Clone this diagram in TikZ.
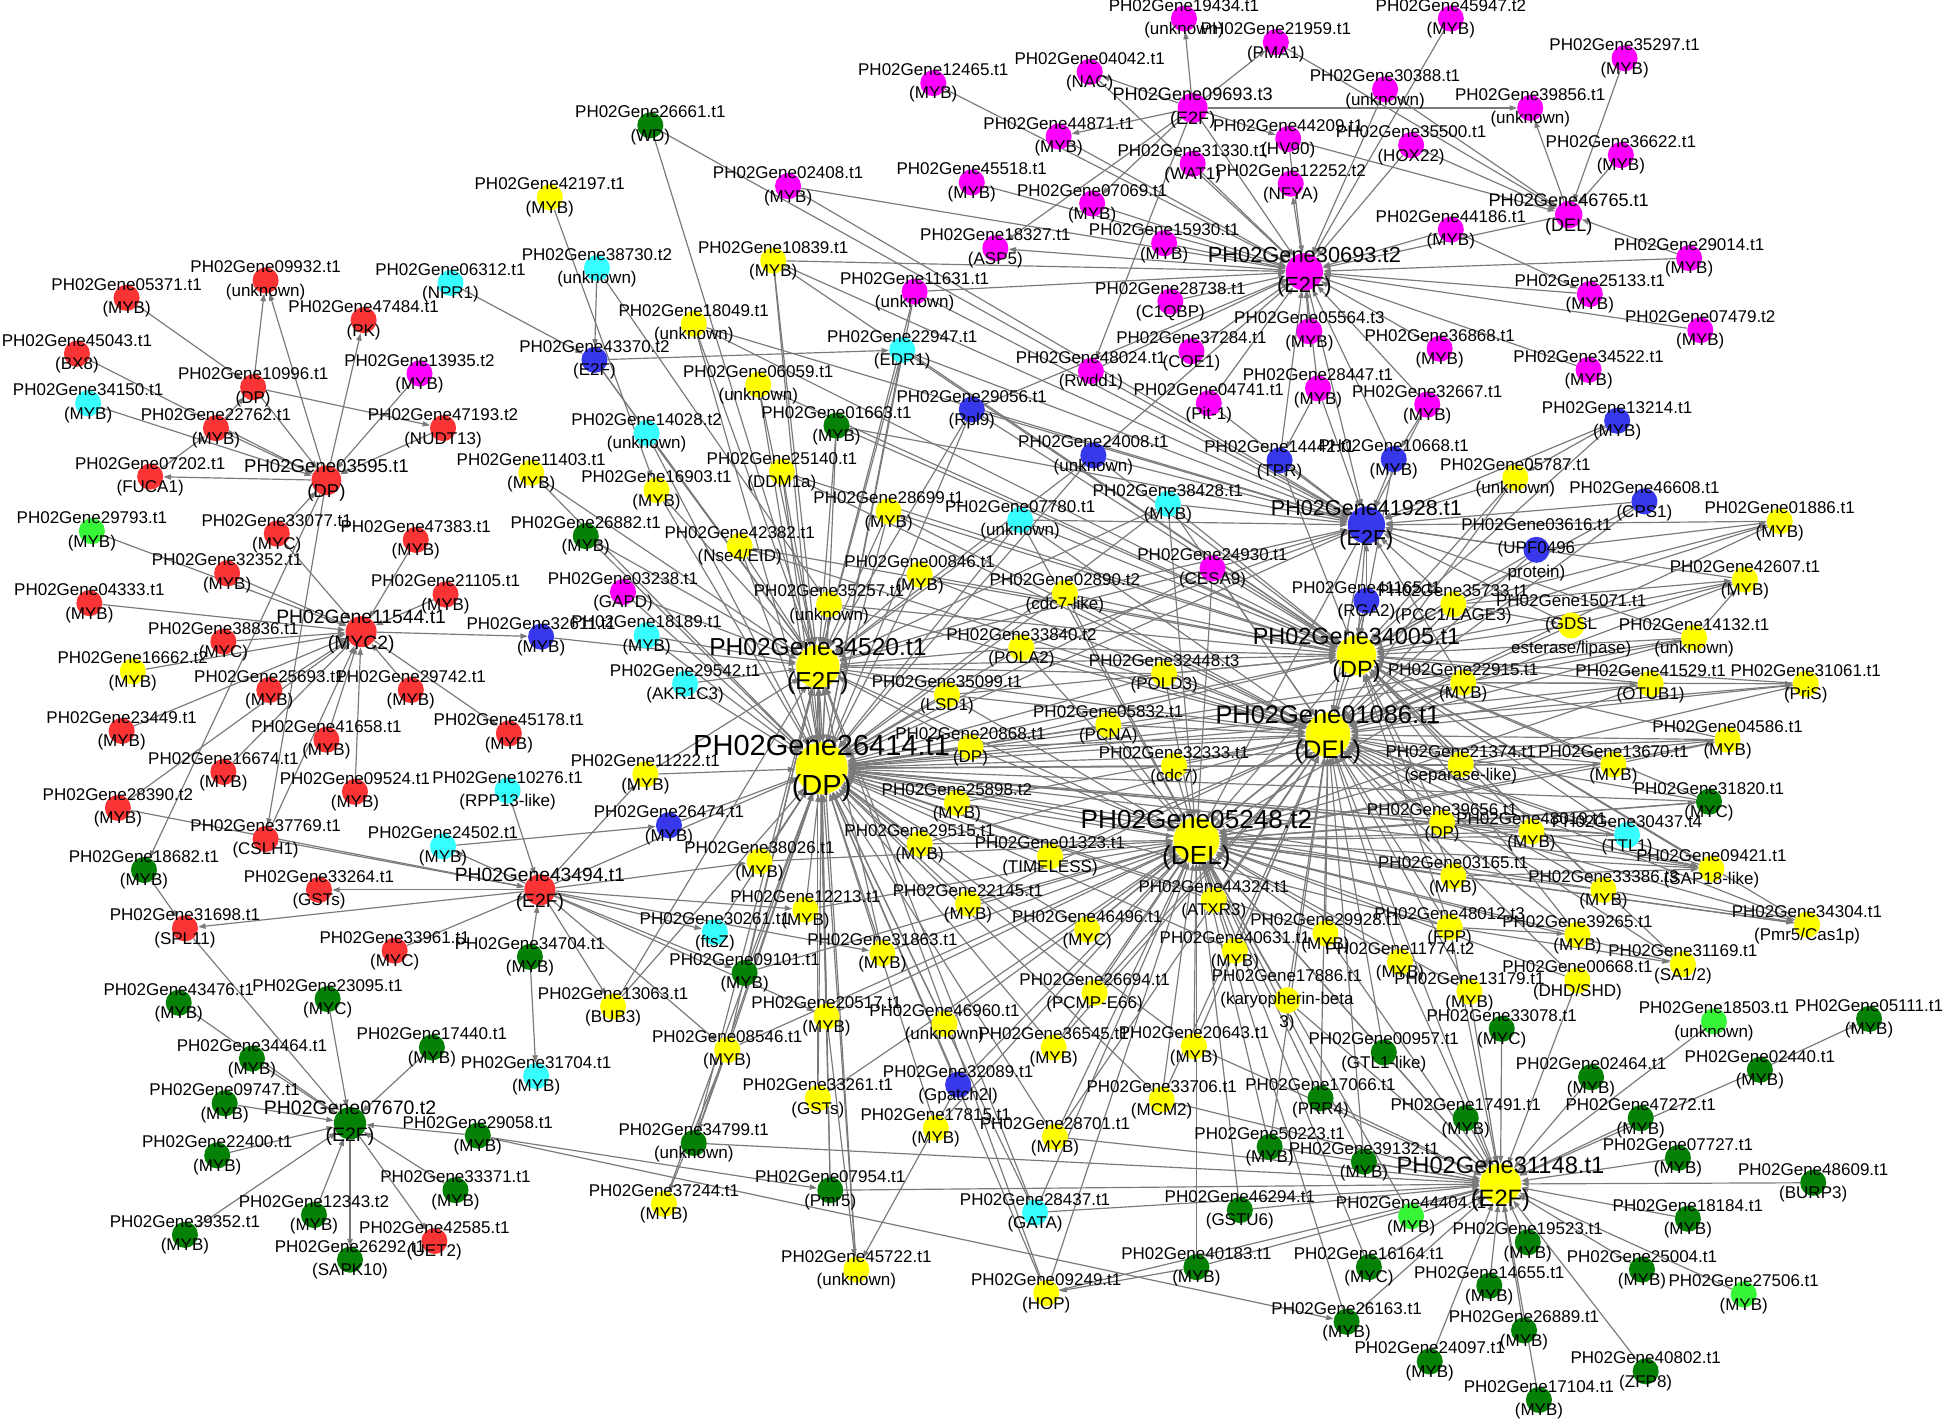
\documentclass[tikz,border=0pt]{standalone}
\usepackage{fontspec}
\setmainfont{Liberation Sans}
\usetikzlibrary{arrows.meta}
\definecolor{rd}{RGB}{250,52,52}
\definecolor{mg}{RGB}{255,0,255}
\definecolor{yl}{RGB}{255,255,0}
\definecolor{cy}{RGB}{55,255,255}
\definecolor{bl}{RGB}{55,55,235}
\definecolor{dg}{RGB}{5,130,5}
\definecolor{lg}{RGB}{55,245,55}
\definecolor{eg}{RGB}{122,122,122}
\pgfdeclarelayer{background}
\pgfdeclarelayer{fg}
\pgfsetlayers{background,main,fg}
\tikzset{
 gc/.style={circle,inner sep=0pt,minimum size=21pt,draw=none},
 gl/.style={align=center,inner sep=0pt,text=black,font=\fontsize{13.7}{18.8}\selectfont},
 ed/.style={draw=eg,line width=0.95pt,-{Triangle[length=6pt,width=4.2pt]}}
}
\newcommand{\sn}[6]{%
 \node[gc,fill=#5] (g#1) at (#3,#4) {};
 \begin{pgfonlayer}{fg}\node[gl] at (#3,#4) {PH02Gene#1.#2\\(#6)};\end{pgfonlayer}}
\newcommand{\hn}[9]{%
 \node[gc,fill=#5,minimum size=#6pt] (g#1) at (#3,#4) {};
 \begin{pgfonlayer}{fg}\node[gl,font=\fontsize{#7}{#8}\selectfont] at (#3,#4) {PH02Gene#1.#2\\(#9)};\end{pgfonlayer}}
\begin{document}
\begin{tikzpicture}[x=1pt,y=-1pt]
\useasboundingbox (0,0) rectangle (1568,1146);
\begin{pgfonlayer}{background}\fill[white] (0,0) rectangle (1568,1146);\end{pgfonlayer}
% ---- left red cluster
\sn{05371}{t1}{102}{240}{rd}{MYB}
\sn{09932}{t1}{214}{226}{rd}{unknown}
\sn{06312}{t1}{363}{228}{cy}{NPR1}
\sn{47484}{t1}{293}{258}{rd}{PK}
\sn{45043}{t1}{62}{285}{rd}{BX8}
\sn{10996}{t1}{204}{312}{rd}{DP}
\sn{13935}{t2}{338}{301}{mg}{MYB}
\sn{34150}{t1}{71}{325}{cy}{MYB}
\sn{22762}{t1}{174}{345}{rd}{MYB}
\sn{47193}{t2}{357}{345}{rd}{NUDT13}
\sn{07202}{t1}{121}{384}{rd}{FUCA1}
\hn{03595}{t1}{263}{387}{rd}{24}{15}{20.5}{DP}
\sn{29793}{t1}{74}{428}{lg}{MYB}
\sn{33077}{t1}{223}{430}{rd}{MYC}
\sn{47383}{t1}{335}{435}{rd}{MYB}
\sn{32352}{t1}{183}{462}{rd}{MYB}
\sn{04333}{t1}{72}{486}{rd}{MYB}
\sn{21105}{t1}{359}{479}{rd}{MYB}
\hn{11544}{t1}{291}{509}{rd}{25}{15.6}{21.4}{MYC2}
\sn{38836}{t1}{180}{517}{rd}{MYC}
\sn{16662}{t2}{107}{541}{yl}{MYB}
\sn{25693}{t1}{217}{556}{rd}{MYB}
\sn{29742}{t1}{331}{556}{rd}{MYB}
\sn{23449}{t1}{98}{589}{rd}{MYB}
\sn{41658}{t1}{263}{596}{rd}{MYB}
\sn{45178}{t1}{410}{591}{rd}{MYB}
\sn{16674}{t1}{180}{622}{rd}{MYB}
\sn{09524}{t1}{286}{638}{rd}{MYB}
\sn{10276}{t1}{409}{637}{cy}{RPP13-like}
\sn{28390}{t2}{95}{651}{rd}{MYB}
\sn{37769}{t1}{214}{676}{rd}{CSLH1}
\sn{24502}{t1}{357}{682}{cy}{MYB}
\sn{18682}{t1}{116}{701}{dg}{MYB}
\sn{33264}{t1}{257}{717}{rd}{GSTs}
\hn{43494}{t1}{435}{717}{rd}{25}{15.5}{21.2}{E2F}
\sn{31698}{t1}{149}{748}{rd}{SPL11}
\sn{33961}{t1}{318}{766}{rd}{MYC}
\sn{34704}{t1}{427}{771}{dg}{MYB}
% ---- bottom-left green cluster
\sn{43476}{t1}{144}{808}{dg}{MYB}
\sn{23095}{t1}{264}{805}{dg}{MYC}
\sn{17440}{t1}{348}{844}{dg}{MYB}
\sn{34464}{t1}{203}{853}{dg}{MYB}
\sn{31704}{t1}{432}{867}{cy}{MYB}
\sn{09747}{t1}{181}{889}{dg}{MYB}
\hn{07670}{t2}{282}{905}{dg}{26}{15.7}{21.5}{E2F}
\sn{29058}{t1}{385}{915}{dg}{MYB}
\sn{22400}{t1}{175}{931}{dg}{MYB}
\sn{33371}{t1}{367}{959}{dg}{MYB}
\sn{12343}{t2}{253}{979}{dg}{MYB}
\sn{39352}{t1}{149}{995}{dg}{MYB}
\sn{42585}{t1}{350}{1000}{rd}{UET2}
\sn{26292}{t1}{282}{1015}{dg}{SAPK10}
% ---- upper middle
\sn{26661}{t1}{524}{101}{dg}{WD}
\sn{12465}{t1}{752}{67}{mg}{MYB}
\sn{42197}{t1}{443}{159}{yl}{MYB}
\sn{02408}{t1}{635}{150}{mg}{MYB}
\sn{38730}{t2}{481}{216}{cy}{unknown}
\sn{10839}{t1}{623}{210}{yl}{MYB}
\sn{11631}{t1}{737}{235}{mg}{unknown}
\sn{18049}{t1}{559}{261}{yl}{unknown}
\sn{43370}{t2}{479}{290}{bl}{E2F}
\sn{22947}{t1}{727}{282}{cy}{EDR1}
\sn{06059}{t1}{611}{310}{yl}{unknown}
\sn{29056}{t1}{783}{330}{bl}{Rpl9}
\sn{14028}{t2}{521}{349}{cy}{unknown}
\sn{01663}{t1}{674}{343}{dg}{MYB}
\sn{11403}{t1}{428}{381}{yl}{MYB}
\sn{25140}{t1}{630}{380}{yl}{DDM1a}
\sn{16903}{t1}{529}{395}{yl}{MYB}
\sn{28699}{t1}{716}{412}{yl}{MYB}
\sn{26882}{t1}{472}{432}{dg}{MYB}
\sn{42382}{t1}{596}{440}{yl}{Nse4/EID}
\sn{00846}{t1}{741}{463}{yl}{MYB}
\sn{03238}{t1}{502}{477}{mg}{GAPD}
\sn{35257}{t1}{668}{487}{yl}{unknown}
\sn{32611}{t1}{436}{513}{bl}{MYB}
\sn{18189}{t1}{521}{512}{cy}{MYB}
\hn{34520}{t1}{659}{537}{yl}{35}{19.8}{27.5}{E2F}
\sn{29542}{t1}{552}{551}{cy}{AKR1C3}
\sn{11222}{t1}{520}{624}{yl}{MYB}
\hn{26414}{t1}{662}{619}{yl}{42}{23.4}{32}{DP}
\sn{26474}{t1}{539}{665}{bl}{MYB}
\sn{38026}{t1}{612}{694}{yl}{MYB}
\sn{30261}{t1}{576}{751}{cy}{ftsZ}
\sn{12213}{t1}{649}{733}{yl}{MYB}
\sn{31863}{t1}{711}{768}{yl}{MYB}
\sn{09101}{t1}{600}{784}{dg}{MYB}
\sn{13063}{t1}{494}{811}{yl}{BUB3}
\sn{20517}{t1}{666}{819}{yl}{MYB}
\sn{46960}{t1}{761}{825}{yl}{unknown}
\sn{08546}{t1}{586}{846}{yl}{MYB}
\sn{32089}{t1}{772}{874}{bl}{Gpatch2l}
\sn{33261}{t1}{659}{885}{yl}{GSTs}
\sn{17815}{t1}{754}{909}{yl}{MYB}
\sn{34799}{t1}{559}{921}{dg}{unknown}
\sn{07954}{t1}{669}{959}{dg}{Pmr5}
\sn{37244}{t1}{535}{970}{yl}{MYB}
\sn{45722}{t1}{690}{1023}{yl}{unknown}
% ---- lower middle
\sn{36545}{t1}{849}{844}{yl}{MYB}
\sn{26694}{t1}{882}{800}{yl}{PCMP-E66}
\sn{20643}{t1}{962}{843}{yl}{MYB}
\sn{33706}{t1}{936}{886}{yl}{MCM2}
\sn{28701}{t1}{850}{916}{yl}{MYB}
\sn{28437}{t1}{834}{977}{cy}{GATA}
\sn{09249}{t1}{843}{1042}{yl}{HOP}
\sn{46294}{t1}{999}{975}{dg}{GSTU6}
\sn{40183}{t1}{964}{1021}{dg}{MYB}
\sn{17886}{t1}{1037}{806}{yl}{karyopherin-beta\\3}
\sn{00957}{t1}{1115}{848}{dg}{GTL1-like}
\sn{17066}{t1}{1064}{885}{dg}{PRR4}
\sn{50223}{t1}{1023}{924}{dg}{MYB}
\sn{39132}{t1}{1099}{936}{dg}{MYB}
\sn{44404}{t1}{1137}{980}{lg}{MYB}
\sn{16164}{t1}{1103}{1021}{dg}{MYC}
\sn{26163}{t1}{1085}{1065}{dg}{MYB}
\sn{24097}{t1}{1152}{1097}{dg}{MYB}
% ---- bottom right cluster
\hn{31148}{t1}{1209}{954}{yl}{33}{19.1}{26.5}{E2F}
\sn{19523}{t1}{1231}{1001}{dg}{MYB}
\sn{14655}{t1}{1200}{1036}{dg}{MYB}
\sn{26889}{t1}{1228}{1072}{dg}{MYB}
\sn{17104}{t1}{1240}{1128}{dg}{MYB}
\sn{40802}{t1}{1326}{1105}{dg}{ZFP8}
\sn{25004}{t1}{1323}{1023}{dg}{MYB}
\sn{27506}{t1}{1405}{1043}{lg}{MYB}
\sn{18184}{t1}{1360}{982}{dg}{MYB}
\sn{48609}{t1}{1461}{953}{dg}{BURP3}
\sn{07727}{t1}{1352}{933}{dg}{MYB}
\sn{47272}{t1}{1322}{901}{dg}{MYB}
\sn{02464}{t1}{1282}{868}{dg}{MYB}
\sn{02440}{t1}{1418}{862}{dg}{MYB}
\sn{18503}{t1}{1381}{823}{lg}{unknown}
\sn{05111}{t1}{1506}{821}{dg}{MYB}
\sn{33078}{t1}{1210}{829}{dg}{MYC}
\sn{17491}{t1}{1181}{901}{dg}{MYB}
\sn{13179}{t1}{1184}{799}{yl}{MYB}
\sn{00668}{t1}{1271}{790}{yl}{DHD/SHD}
\sn{31169}{t1}{1356}{777}{yl}{SA1/2}
\sn{34304}{t1}{1456}{745}{yl}{Pmr5/Cas1p}
\sn{39265}{t1}{1271}{753}{yl}{MYB}
\sn{33386}{t3}{1292}{717}{yl}{MYB}
\sn{09421}{t1}{1379}{700}{yl}{SAP18-like}
\sn{30437}{t4}{1311}{673}{cy}{TTL1}
\sn{48019}{t1}{1234}{670}{yl}{MYB}
\sn{31820}{t1}{1377}{646}{dg}{MYC}
\sn{13670}{t1}{1300}{616}{yl}{MYB}
\sn{04586}{t1}{1392}{596}{yl}{MYB}
\sn{21374}{t1}{1177}{616}{yl}{separase-like}
\sn{41529}{t1}{1330}{551}{yl}{OTUB1}
\sn{31061}{t1}{1455}{551}{yl}{PriS}
\sn{22915}{t1}{1179}{550}{yl}{MYB}
\sn{14132}{t1}{1365}{514}{yl}{unknown}
\sn{15071}{t1}{1266}{504}{yl}{GDSL\\esterase/lipase}
\sn{42607}{t1}{1406}{467}{yl}{MYB}
\sn{01886}{t1}{1434}{420}{yl}{MYB}
\sn{03616}{t1}{1238}{443}{bl}{UPF0496\\protein}
\sn{46608}{t1}{1325}{404}{bl}{CPS1}
\sn{05787}{t1}{1221}{385}{yl}{unknown}
\sn{35733}{t1}{1171}{487}{yl}{PCC1/LAGE3}
\sn{39656}{t1}{1162}{663}{yl}{DP}
\sn{03165}{t1}{1171}{706}{yl}{MYB}
\sn{48012}{t3}{1168}{747}{yl}{FPP}
\sn{11774}{t2}{1128}{775}{yl}{MYB}
\sn{29928}{t1}{1068}{752}{yl}{MYB}
\sn{40631}{t1}{995}{766}{yl}{MYB}
\sn{44324}{t1}{978}{725}{yl}{ATXR3}
\sn{46496}{t1}{876}{749}{yl}{MYC}
% ---- centre
\hn{05248}{t2}{964}{677}{yl}{37}{21.1}{29}{DEL}
\sn{01323}{t1}{846}{690}{yl}{TIMELESS}
\sn{22145}{t1}{780}{728}{yl}{MYB}
\sn{29515}{t1}{741}{680}{yl}{MYB}
\sn{25898}{t2}{771}{647}{yl}{MYB}
\sn{20868}{t1}{782}{602}{yl}{DP}
\sn{35099}{t1}{763}{560}{yl}{LSD1}
\sn{33840}{t2}{823}{522}{yl}{POLA2}
\sn{32448}{t3}{938}{543}{yl}{POLD3}
\sn{05832}{t1}{893}{584}{yl}{PCNA}
\sn{32333}{t1}{946}{617}{yl}{cdc7}
\hn{01086}{t1}{1070}{592}{yl}{36}{20.5}{28}{DEL}
\hn{34005}{t1}{1093}{528}{yl}{32}{18.9}{26}{DP}
\sn{02890}{t2}{858}{478}{yl}{cdc7-like}
\sn{24930}{t1}{977}{458}{mg}{CESA9}
\sn{41165}{t1}{1101}{484}{bl}{RGA2}
\hn{41928}{t1}{1101}{423}{bl}{30}{17.4}{24}{E2F}
\sn{38428}{t1}{941}{406}{cy}{MYB}
\sn{07780}{t1}{822}{419}{cy}{unknown}
\sn{24008}{t1}{881}{367}{bl}{unknown}
\sn{14442}{t1}{1031}{371}{bl}{TPR}
\sn{10668}{t1}{1123}{370}{bl}{MYB}
\sn{13214}{t1}{1303}{339}{bl}{MYB}
% ---- top magenta cluster
\sn{32667}{t1}{1150}{326}{mg}{MYB}
\sn{28447}{t1}{1062}{313}{mg}{MYB}
\sn{04741}{t1}{974}{325}{mg}{Pit-1}
\sn{48024}{t1}{879}{299}{mg}{Rwdd1}
\sn{37284}{t1}{960}{283}{mg}{COE1}
\sn{05564}{t3}{1055}{267}{mg}{MYB}
\sn{36868}{t1}{1160}{281}{mg}{MYB}
\sn{34522}{t1}{1280}{298}{mg}{MYB}
\sn{07479}{t2}{1370}{266}{mg}{MYB}
\sn{25133}{t1}{1281}{237}{mg}{MYB}
\sn{29014}{t1}{1361}{208}{mg}{MYB}
\sn{44186}{t1}{1169}{185}{mg}{MYB}
\hn{46765}{t1}{1264}{173}{mg}{22}{14.6}{20}{DEL}
\sn{36622}{t1}{1306}{125}{mg}{MYB}
\sn{39856}{t1}{1233}{87}{mg}{unknown}
\sn{35297}{t1}{1309}{47}{mg}{MYB}
\sn{45947}{t2}{1169}{15}{mg}{MYB}
\sn{30388}{t1}{1116}{72}{mg}{unknown}
\sn{35500}{t1}{1137}{117}{mg}{HOX22}
\sn{12252}{t2}{1040}{148}{mg}{NFYA}
\sn{44209}{t1}{1038}{112}{mg}{HV90}
\sn{31330}{t1}{961}{132}{mg}{WAT1}
\hn{09693}{t3}{961}{87}{mg}{24}{14.6}{20}{E2F}
\sn{21959}{t1}{1028}{34}{mg}{PMA1}
\sn{19434}{t1}{954}{15}{mg}{unknown}
\sn{04042}{t1}{878}{58}{mg}{NAC}
\sn{44871}{t1}{853}{110}{mg}{MYB}
\sn{45518}{t1}{783}{147}{mg}{MYB}
\sn{07069}{t1}{880}{164}{mg}{MYB}
\sn{18327}{t1}{802}{200}{mg}{ASP5}
\sn{15930}{t1}{938}{196}{mg}{MYB}
\hn{30693}{t2}{1051}{219}{mg}{30}{17.6}{24}{E2F}
\sn{28738}{t1}{943}{243}{mg}{C1QBP}
% ================= edges
\begin{pgfonlayer}{background}
\foreach \a/\b in {05371/10996,10996/09932,03595/09932,03595/47484,13935/03595,47193/03595,10996/47193,22762/03595,34150/03595,45043/03595,03595/07202,07202/22762,22762/10996,10996/03595,03595/37769,03595/18682,33077/03595,
 33077/11544,18682/31698,31698/07670,28390/43494,37769/43494,43494/33264,43494/31698,33961/43494,34704/43494,10276/43494,24502/26474,43494/13063,34704/31704,06312/43370,38730/43370,42197/16903,38730/35257,43370/22947,43370/34520,
 29058/07954,29058/26163,08546/37244,08546/34799,20517/45722,32089/45722,34799/31148,07954/31148,40183/09249,
 44186/25133,13214/05787,32667/10668,28447/14442,02440/05111,
 22915/41529,22915/31061,41529/31061,13670/04586,21374/13670,39656/30437,39656/09421,39656/34304,03165/34304,48012/39265,48012/31169,48019/09421,33386/34304,15071/42607,14132/42607,35733/01886,35733/42607,35733/15071,03616/01886,21374/04586,22915/14132,03165/09421,39656/31820,21374/31061}
 \draw[ed] (g\a) -- (g\b);
\foreach \b in {29793,32352,04333,38836,16662,25693,23449,16674,28390,41658,09524,47383,21105,29742,37769}
 \draw[ed] (g\b) -- (g11544);
\draw[ed] (g11544) -- (g45178);
\draw[ed] (g11544) -- (g32611);
\foreach \b in {08546,09101,38026,11222,12213,30261,20517,31863,24502}
 \draw[ed] (g43494) -- (g\b);
\draw[ed] (g43494) -- (g26414);
\foreach \b in {43476,23095,17440,34464,09747,22400,39352,12343,33371,29058}
 \draw[ed] (g\b) -- (g07670);
\foreach \b in {26292,42585}
 \draw[ed] (g07670) -- (g\b);
\foreach \b in {26661,43370,18049,10839,11631,22947,06059,14028,01663,29056,11403,25140,16903,28699,26882,42382,00846,03238,35257,32611,18189,29542,11222,07780,24008,02890,33840,35099,20868,32448,24930,38428,09101,08546,13063,33261,31863,20517,45722,28437,09249,34799,07954}
 \draw[ed] (g\b) -- (g34520);
\foreach \b in {18049,10839,11631,22947,06059,14028,01663,29056,11403,25140,16903,28699,26882,42382,00846,03238,35257,18189,29542,11222,26474,38026,30261,12213,31863,09101,13063,08546,20517,46960,32089,33261,17815,45722,37244,34799,07954,07780,24008,02890,33840,35099,20868,25898,29515,22145,01323,05832,32333,32448,24930,38428,22915,21374,13670,04586,41529,31061,14132,39656,03165,48012,48019,30437,09421,33386,31820,44324,40631,46496,29928,36545,26694,20643,33706,28701,28437,09249,34520,05248,01086,34005,41928}
 \draw[ed] (g\b) -- (g26414);
\foreach \b in {01323,22145,29515,25898,20868,35099,46496,44324,40631,29928,11774,17886,20643,36545,26694,33706,28701,46960,32089,17815,09249,28437,33261,20517,31863,12213,38026,08546,09101,00957,17066,50223,39132,46294,40183,26163,16164,44404,39656,03165,48012,13179,00668,33386,39265,31169,48019,30437,09421,34304,32448,32333,05832,33840,02890,24930,38428,07780,22915,21374,13670,04586,41529,31820,34520,01086,34005,31148,41928}
 \draw[ed] (g\b) -- (g05248);
\foreach \b in {22915,21374,13670,04586,41529,31061,14132,15071,42607,01886,03616,35733,41165,05787,46608,39656,03165,48012,48019,30437,31820,09421,33386,34304,39265,31169,00668,13179,11774,29928,40631,44324,17886,00957,17066,50223,39132,20643,33706,26694,36545,46496,28701,01323,22145,32448,32333,05832,33840,02890,24930,38428,07780,00846,28699,35257,42382,25140,20868,25898,29515,35099,34005,41928,31148,34520}
 \draw[ed] (g\b) -- (g01086);
\foreach \b in {22915,21374,41529,31061,04586,13670,14132,15071,42607,01886,03616,35733,41165,05787,46608,39656,03165,48012,48019,30437,09421,33386,34304,31820,39265,31169,32448,33840,02890,24930,38428,07780,00846,28699,29056,24008,22947,25140,01663,10839,06059,18049,35257,42382,13214,14442,10668,34520,41928,20868,35099}
 \draw[ed] (g\b) -- (g34005);
\foreach \b in {24008,14442,10668,13214,05787,46608,03616,01886,42607,41165,35733,38428,24930,07780,29056,01663,22947,11631,10839,02408,26661,18049,32667,28447,04741,02890,33840,15071,14132,22915,30693}
 \draw[ed] (g\b) -- (g41928);
\foreach \b in {12465,04042,44871,45518,07069,15930,28738,48024,37284,04741,05564,28447,32667,36868,34522,07479,25133,29014,44186,46765,31330,09693,44209,35500,30388,45947,02408,11631,10839,24008,14442,10668,29056}
 \draw[ed] (g\b) -- (g30693);
\foreach \b in {18327,12252}
 \draw[ed] (g30693) -- (g\b);
\foreach \b in {19434,21959,04042,44871,39856,44209,07069,48024,18327}
 \draw[ed] (g09693) -- (g\b);
\foreach \b in {35297,36622,29014,35500,30388,21959,44209}
 \draw[ed] (g\b) -- (g46765);
\draw[ed] (g46765) -- (g39856);
\foreach \b in {33078,02464,18503,02440,47272,07727,48609,18184,25004,27506,40802,17104,26889,14655,19523,24097,26163,16164,44404,39132,50223,17066,00957,17491,46294,40183,09249,28437,28701,17886,11774,29928,13179,00668,48012,20643,33706}
 \draw[ed] (g\b) -- (g31148);
\end{pgfonlayer}
\end{tikzpicture}
\end{document}
